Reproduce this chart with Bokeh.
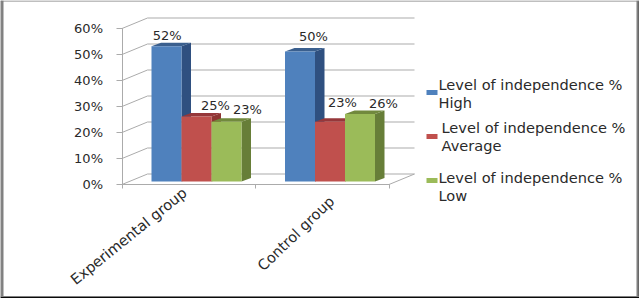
from bokeh.plotting import figure
from bokeh.embed import file_html
from bokeh.resources import INLINE
from bokeh.models import Range1d, LinearAxis, FixedTicker
from bokeh.core.properties import value

# ---- data ----
categories = ["Experimental group", "Control group"]
series_names = ["Level of independence %\nHigh", "Level of independence %\nAverage", "Level of independence %\nLow"]
high = [52, 50]
average = [25, 23]
low = [23, 26]
y_ticks = [0, 10, 20, 30, 40, 50, 60]

# ---- style ----
W, H = 639, 298
PX_PER_CAT = 133.5
PX_PER_PCT = 2.6
X0_PX, Y0_PX = 121.5, 184.0
front = ["#4F81BD", "#C0504D", "#9BBB59"]
side = ["#2F5080", "#8E3532", "#677E38"]
top = ["#3A5F8E", "#96373A", "#71893D"]
GRID = "#ABABAB"
TXT = "#2a2a2a"
FONT = value("DejaVu Sans")


def X(px):
    return (px - X0_PX) / PX_PER_CAT


def Y(py):
    return (Y0_PX - py) / PX_PER_PCT


p = figure(width=W, height=H, output_backend="svg", toolbar_location=None,
           x_range=Range1d(X(0), X(W)), y_range=Range1d(Y(H), Y(0)),
           x_axis_location=None, y_axis_location=None, min_border=0,
           outline_line_color=None, background_fill_color="white")
p.grid.visible = False

# picture frame
for x0, x1, y0, y1, col in [(0, 1, 0, H, "#111111"), (1, 3, 0, H, "#808080"),
                            (636, 638, 0, H, "#808080"), (638, W, 0, H, "#111111"),
                            (0, W, 0, 1, "#808080"),
                            (0, W, 295.5, 296.5, "#808080"), (0, W, 296.5, H, "#0a0a0a")]:
    p.quad(left=[X(x0)], right=[X(x1)], bottom=[Y(y1)], top=[Y(y0)], color=col, line_width=0)

# 3-D walls
DX_WALL = 25.5 / PX_PER_CAT
DY_WALL = 10.5 / PX_PER_PCT
n_cat = len(categories)
for v in y_ticks:
    p.line([0, DX_WALL, n_cat + DX_WALL], [v, v + DY_WALL, v + DY_WALL], line_color=GRID, line_width=1)
p.line([n_cat, n_cat + DX_WALL], [0, DY_WALL], line_color=GRID, line_width=1)

yaxis = LinearAxis(fixed_location=0, ticker=FixedTicker(ticks=y_ticks), bounds=(0, 60),
                   major_label_overrides={v: f"{v}%" for v in y_ticks},
                   axis_line_color=GRID, major_tick_line_color=GRID, minor_tick_line_color=None,
                   major_tick_out=6, major_tick_in=0, major_label_standoff=13,
                   major_label_text_font="DejaVu Sans", major_label_text_font_size="13px",
                   major_label_text_color=TXT)
p.add_layout(yaxis, "left")
xaxis = LinearAxis(fixed_location=0, ticker=FixedTicker(ticks=[0, 1, 2]), bounds=(0, n_cat),
                   major_label_overrides={0: "", 1: "", 2: ""},
                   axis_line_color=GRID, major_tick_line_color=GRID, minor_tick_line_color=None,
                   major_tick_out=4, major_tick_in=0)
p.add_layout(xaxis, "below")

# bars
BAR_W = 30 / PX_PER_CAT
BAR_OFF = 29.5 / PX_PER_CAT
BASE = 3 / PX_PER_PCT
DX = 9.5 / PX_PER_CAT
DY = 3.5 / PX_PER_PCT
for s, vals in enumerate([high, average, low]):
    for c, v in enumerate(vals):
        l = c + BAR_OFF + s * BAR_W
        r = l + BAR_W
        b, t = BASE, BASE + v
        p.patch([r, r + DX, r + DX, r], [b, b + DY, t + DY, t], color=side[s], line_width=0)
        p.patch([l, l + DX, r + DX, r], [t, t + DY, t + DY, t], color=top[s], line_width=0)
        p.quad(left=[l], right=[r], bottom=[b], top=[t], color=front[s], line_width=0)

# data labels
lab_cx = [[166.7, 215, 247], [313, 342, 383]]
lab_cy = [[35, 104.7, 109], [36, 101.7, 103]]
for c in range(n_cat):
    for s, vals in enumerate([high, average, low]):
        p.text([X(lab_cx[c][s])], [Y(lab_cy[c][s])], text=[f"{vals[c]}%"],
               text_align="center", text_baseline="middle", text_font=FONT,
               text_font_size="13px", text_color=TXT)

# category labels
cat_end = [(184, 190), (331, 198)]
cat_angle = [39, 44]
for name, (ex, ey), ang in zip(categories, cat_end, cat_angle):
    p.text([X(ex)], [Y(ey)], text=[name], angle=ang, angle_units="deg",
           text_align="right", text_baseline="middle", text_font=FONT,
           text_font_size="14.6px", text_color=TXT)

# legend
leg_x = [438, 441, 438]
leg_y = [84, 127, 177]
key_y = [92, 136, 180]
for i, name in enumerate(series_names):
    l1, l2 = name.split("\n")
    p.quad(left=[X(426)], right=[X(437)], bottom=[Y(key_y[i] + 2.5)], top=[Y(key_y[i] - 2.5)],
           color=front[i], line_width=0)
    p.text([X(leg_x[i])], [Y(leg_y[i])], text=[l1], text_baseline="middle", text_font=FONT,
           text_font_size="14.6px", text_color=TXT)
    p.text([X(leg_x[i])], [Y(leg_y[i] + 18)], text=[l2], text_baseline="middle", text_font=FONT,
           text_font_size="14.6px", text_color=TXT)

open("out.html", "w").write(file_html(p, INLINE))
